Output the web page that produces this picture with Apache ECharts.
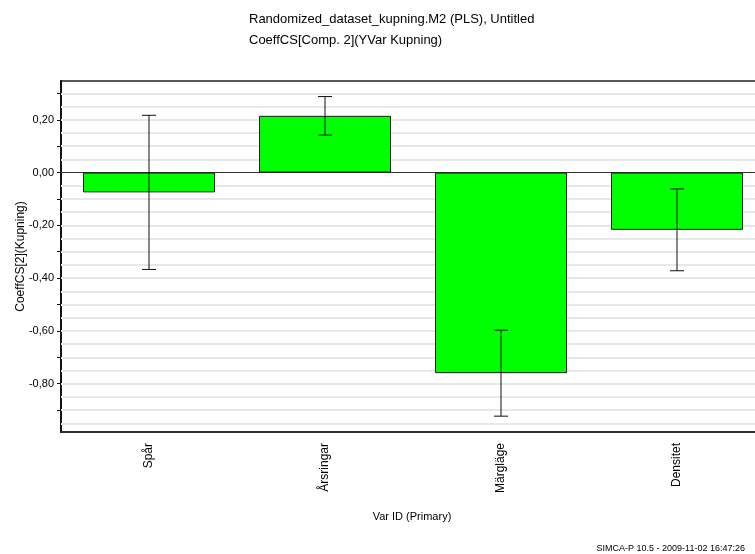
<!DOCTYPE html>
<html>
<head>
<meta charset="utf-8">
<script src="https://cdn.jsdelivr.net/npm/echarts@6/dist/echarts.min.js"></script>
<style>
  html, body { margin: 0; padding: 0; background: #fff; overflow: hidden; }
  /* the plot frame runs on past the right edge of the window, so the canvas is a little wider */
  #chart { width: 765px; height: 554px; }
</style>
</head>
<body>
<div id="chart"></div>
<script>
// PLS coefficients (component 2) for the response Kupning
const titleLines = ['Randomized_dataset_kupning.M2 (PLS), Untitled', 'CoeffCS[Comp. 2](YVar Kupning)'];
const footerText = 'SIMCA-P 10.5 - 2009-11-02 16:47:26';
const categories = ['Spår', 'Årsringar', 'Märgläge', 'Densitet'];
const coeffs = [-0.075, 0.215, -0.760, -0.217];
const confInt = [0.292, 0.073, 0.163, 0.155];
const yLabelValues = [-0.8, -0.6, -0.4, -0.2, 0, 0.2];
const yTickValues = [-0.9, -0.8, -0.7, -0.6, -0.5, -0.4, -0.3, -0.2, -0.1, 0, 0.1, 0.2, 0.3];
const gridValues = [-0.95, -0.9, -0.85, -0.8, -0.75, -0.7, -0.65, -0.6, -0.55, -0.5, -0.45, -0.4, -0.35,
  -0.3, -0.25, -0.2, -0.15, -0.1, -0.05, 0.05, 0.1, 0.15, 0.2, 0.25, 0.3];
const yMin = -0.983;
const yMax = 0.347;

const FONT = 'Liberation Sans, Arial, sans-serif';
const errData = categories.map((c, i) => [i, coeffs[i] - confInt[i], coeffs[i] + confInt[i]]);

const chart = echarts.init(document.getElementById('chart'), null, { renderer: 'canvas' });

chart.setOption({
  animation: false,
  backgroundColor: '#ffffff',
  textStyle: { fontFamily: FONT },
  title: [
    {
      text: titleLines.join('\n'),
      left: 244,
      top: 4,
      textStyle: { fontSize: 13, fontWeight: 'normal', color: '#000', lineHeight: 21, fontFamily: FONT }
    },
    {
      text: footerText,
      right: 15,
      top: 539,
      textStyle: { fontSize: 9, fontWeight: 'normal', color: '#000', fontFamily: FONT }
    }
  ],
  grid: {
    left: 61,
    top: 81,
    right: 0,
    height: 351,
    show: true,
    borderColor: '#222',
    borderWidth: 1.5,
    containLabel: false
  },
  xAxis: {
    type: 'category',
    data: categories,
    position: 'bottom',
    axisLine: { onZero: false, lineStyle: { color: '#222', width: 1.5 } },
    axisTick: { show: false },
    axisLabel: { rotate: 90, margin: 11, fontSize: 12, color: '#000', fontFamily: FONT },
    name: 'Var ID (Primary)',
    nameLocation: 'middle',
    nameGap: 79,
    nameMoveOverlap: false,
    nameTextStyle: { fontSize: 11, color: '#000', fontFamily: FONT, padding: [0, 0, 0, -2] },
    splitLine: { show: false }
  },
  yAxis: {
    type: 'value',
    min: yMin,
    max: yMax,
    axisLine: { show: true, lineStyle: { color: '#111', width: 2 } },
    axisTick: { show: true, customValues: yTickValues, length: 4, lineStyle: { color: '#111', width: 1 } },
    axisLabel: {
      customValues: yLabelValues,
      fontSize: 11,
      color: '#000',
      margin: 7,
      fontFamily: FONT,
      formatter: v => (Math.abs(v) < 1e-9 ? 0 : v).toFixed(2).replace('.', ',')
    },
    splitLine: { show: false },
    name: 'CoeffCS[2](Kupning)',
    nameLocation: 'middle',
    nameGap: 34,
    nameMoveOverlap: false,
    nameRotate: 90,
    nameTextStyle: { fontSize: 12, color: '#000', fontFamily: FONT }
  },
  series: [
    {
      // horizontal reference lines every 0.05 plus the zero line, kept behind the bars
      type: 'line',
      z: 1,
      data: [],
      silent: true,
      markLine: {
        z: 1,
        silent: true,
        symbol: 'none',
        label: { show: false },
        animation: false,
        data: gridValues.map(v => ({ yAxis: v, lineStyle: { color: '#e8e8e8', width: 2, type: 'solid' } }))
          .concat([{ yAxis: 0, lineStyle: { color: '#333', width: 1, type: 'solid' } }])
      }
    },
    {
      type: 'bar',
      z: 3,
      data: coeffs,
      barWidth: '75%',
      itemStyle: { color: '#00ff00', borderColor: '#1a1a1a', borderWidth: 1 }
    },
    {
      type: 'custom',
      z: 6,
      data: errData,
      renderItem: function (params, api) {
        const x = api.value(0);
        const lo = api.coord([x, api.value(1)]);
        const hi = api.coord([x, api.value(2)]);
        const half = 7;
        const style = { stroke: '#111', lineWidth: 1 };
        return {
          type: 'group',
          children: [
            { type: 'line', shape: { x1: hi[0], y1: hi[1], x2: lo[0], y2: lo[1] }, style },
            { type: 'line', shape: { x1: hi[0] - half, y1: hi[1], x2: hi[0] + half, y2: hi[1] }, style },
            { type: 'line', shape: { x1: lo[0] - half, y1: lo[1], x2: lo[0] + half, y2: lo[1] }, style }
          ]
        };
      }
    }
  ]
});
</script>
</body>
</html>
